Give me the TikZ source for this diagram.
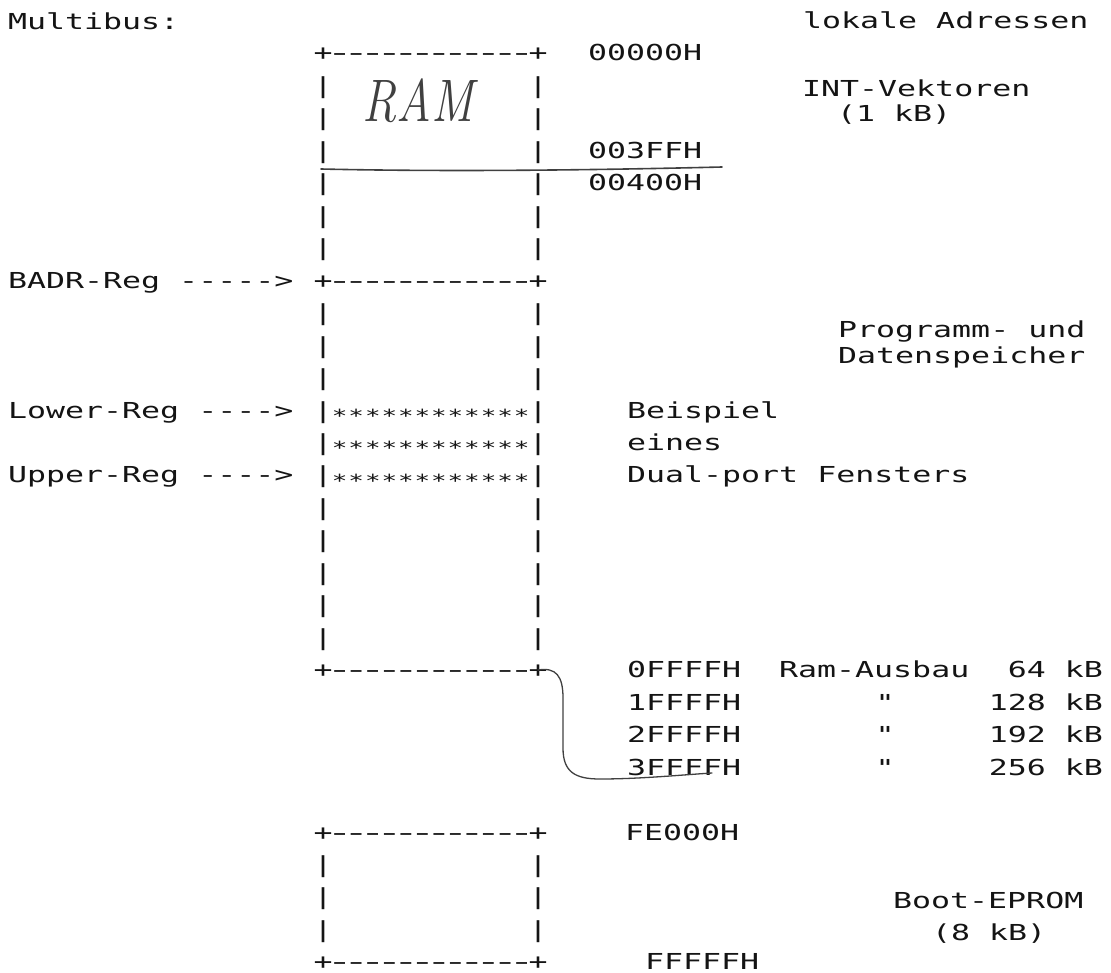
\documentclass[tikz,border=0pt]{standalone}
\usepackage{fontspec}
\newfontfamily\dotm[FakeStretch=1.435]{DejaVu Sans Mono}
\definecolor{ink}{HTML}{141414}
\definecolor{pencilc}{HTML}{404040}
\newlength\cellw \setlength\cellw{16.54pt}
\makeatletter
\def\spreadchars#1{\spread@a#1\relax}
\def\spread@a#1{\ifx\relax#1\else\makebox[\cellw]{\scalebox{1.35}[1]{#1}}\expandafter\spread@a\fi}
\def\spreadstars#1{\spread@s#1\relax}
\def\spread@s#1{\ifx\relax#1\else\makebox[\cellw]{\raisebox{-0.2em}{\scalebox{0.82}{#1}}}\expandafter\spread@s\fi}
\makeatother
\newcommand\borderrow{\makebox[\cellw]{+}\spreadchars{------------}\makebox[\cellw]{+}}
\newcommand\barrow{\makebox[\cellw]{|}\hspace*{12\cellw}\makebox[\cellw]{|}}
\newcommand\starrow{\makebox[\cellw]{|}\spreadstars{************}\makebox[\cellw]{|}}
\begin{document}
\begin{tikzpicture}[x=1pt,y=-1pt,
  txt/.style={font=\dotm\fontsize{22}{24}\selectfont, inner sep=0pt, anchor=base west, text=ink},
  txtr/.style={txt, anchor=base east},
  txtc/.style={txt, anchor=base},
  pencil/.style={draw=pencilc, line width=1.6pt, line cap=round, line join=round},
  hand/.style={font=\fontsize{60}{60}\selectfont\itshape, text=pencilc, inner sep=0pt, xscale=0.8}]
\useasboundingbox (0,0) rectangle (1111,973);
% headings
\node[txt] (multibus) at (8,30) {Multibus:};
\node[txt] (lokal) at (803,29) {lokale Adressen};
% memory box: border rows
\node[txt] (top)      at (314.7,61)     {\borderrow};
\node[txt] (badr)     at (314.7,288.22) {\borderrow};
\node[txt] (ramend)   at (314.7,677.74) {\borderrow};
\node[txt] (epromtop) at (314.7,840.04) {\borderrow};
\node[txt] (epromend) at (314.7,969.88) {\borderrow};
% side bars
\foreach \r in {1,2,3,4,5,6,8,9,10,14,15,16,17,18,25,26,27}
  \node[txt] (bar\r) at (314.7,{61+32.46*\r}) {\barrow};
% dual-port window
\foreach \r in {11,12,13}
  \node[txt] (star\r) at (314.7,{61+32.46*\r}) {\starrow};
% handwritten RAM
\node[hand] (ram) at (418,101) {RAM};
% addresses
\node[txt] (a00000) at (588,61)     {00000H};
\node[txt] (a003ff) at (588,158.38) {003FFH};
\node[txt] (a00400) at (588,190.84) {00400H};
\node[txt] (int)   at (802,97)  {INT-Vektoren};
\node[txt] (intkb) at (837,122) {(1 kB)};
% registers
\node[txt] (badrl)  at (8,288.22) {BADR-Reg ----->};
\node[txt] (lowerl) at (8,418.06) {Lower-Reg ---->};
\node[txt] (upperl) at (8,482.98) {Upper-Reg ---->};
\node[txt] (prog1) at (838,338) {Programm- und};
\node[txt] (prog2) at (838,364) {Datenspeicher};
\node[txt] (bsp1) at (627,418.06) {Beispiel};
\node[txt] (bsp2) at (627,450.52) {eines};
\node[txt] (bsp3) at (627,482.98) {Dual-port Fensters};
% RAM expansion
\node[txt] (e0) at (627,677.74) {0FFFFH};
\node[txt] (e1) at (627,710.2)  {1FFFFH};
\node[txt] (e2) at (627,742.66) {2FFFFH};
\node[txt] (e3) at (627,775.12) {3FFFFH};
\node[txt] (ausbau) at (779,677.74) {Ram-Ausbau};
\node[txtc] (d1) at (885,710.2)  {"};
\node[txtc] (d2) at (885,742.66) {"};
\node[txtc] (d3) at (885,775.12) {"};
\node[txtr] (k0) at (1103,677.74) {64 kB};
\node[txtr] (k1) at (1103,710.2)  {128 kB};
\node[txtr] (k2) at (1103,742.66) {192 kB};
\node[txtr] (k3) at (1103,775.12) {256 kB};
% boot eprom
\node[txt] (fe000) at (625,840.04) {FE000H};
\node[txt] (fffff) at (645,969.88) {FFFFFH};
\node[txt] (boot)   at (893,908) {Boot-EPROM};
\node[txt] (bootkb) at (932,940) {(8 kB)};
% handwritten pencil lines
\coordinate (h1) at (321,169);
\coordinate (h2) at (722,167);
\draw[pencil] (h1) .. controls (450,172) and (600,170) .. (h2);
\coordinate (c1) at (538,670);
\coordinate (c2) at (563,698);
\coordinate (c3) at (563,748);
\coordinate (c4) at (600,779);
\coordinate (c5) at (712,773);
\draw[pencil, line width=1.3pt] (c1) .. controls (556,667) and (563,676) .. (c2) -- (c3)
  .. controls (563,772) and (575,779) .. (c4) .. controls (640,779) and (680,775) .. (c5);
\end{tikzpicture}
\end{document}
